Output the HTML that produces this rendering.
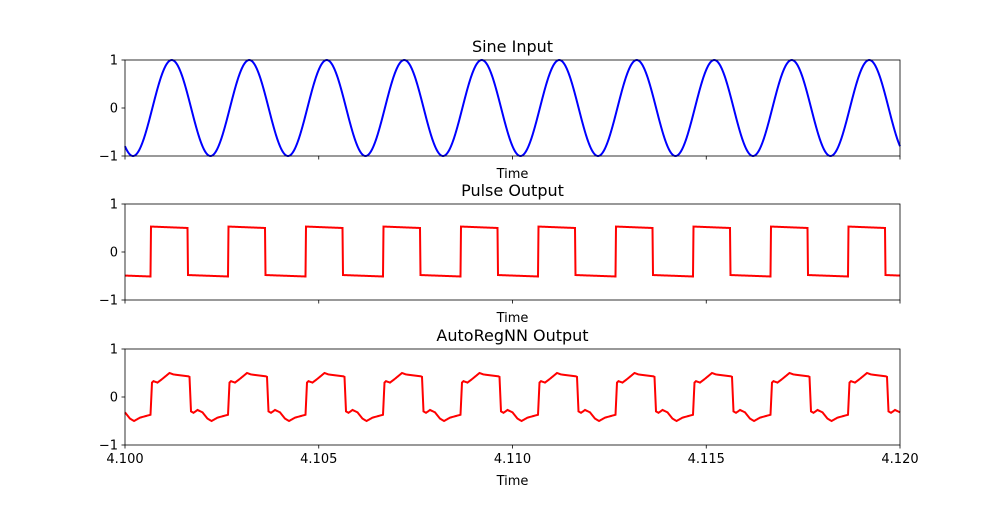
<!DOCTYPE html>
<html><head><meta charset="utf-8"><style>
body{margin:0;background:#fff}
text{font-family:"DejaVu Sans","Liberation Sans",sans-serif;fill:#000}
</style></head><body>
<svg id="s" width="1000" height="500" xmlns="http://www.w3.org/2000/svg"></svg>
<script>
const s=document.getElementById('s');let h='';
const X0=125,X1=900,P=77.5;
const axes=[[60,156,'Sine Input'],[204,300,'Pulse Output'],[349,445,'AutoRegNN Output']];
function pts(f,top,bot){let c=(top+bot)/2,k=(bot-top)/2,a=[];for(let x=X0;x<=X1;x+=0.5)a.push(x.toFixed(1)+','+(c-f(x)*k).toFixed(2));return a.join(' ');}
const sine=x=>-Math.cos(2*Math.PI*(x-133)/P);
const pulse=x=>{let p=((x-151)%P+P)%P;return p<37?0.53-0.03*p/37:-0.48-0.03*(p-37)/40;};
const kp=[[0,-0.37],[1.5,0.3],[3,0.33],[7,0.3],[12,0.38],[19,0.5],[23,0.47],[38,0.43],[39,0.42],[40.5,-0.3],[43,-0.33],[47,-0.27],[52,-0.32],[57,-0.45],[61,-0.5],[67,-0.43],[77.5,-0.37]];
const ar=x=>{let p=((x-150.5)%P+P)%P;for(let i=1;i<kp.length;i++)if(p<=kp[i][0]){let [a,b]=kp[i-1],[c,d]=kp[i];return b+(d-b)*(p-a)/(c-a);}return -0.37;};
const fs=[sine,pulse,ar],cols=['#0000ff','#ff0000','#ff0000'];
axes.forEach(([t,b,title],i)=>{
 let c=(t+b)/2;
 h+=`<polyline points="${pts(fs[i],t,b)}" fill="none" stroke="${cols[i]}" stroke-width="2"/>`;
 h+=`<rect x="${X0}" y="${t}" width="${X1-X0}" height="${b-t}" fill="none" stroke="#000" stroke-width="0.8"/>`;
 [[1,t],[0,c],[-1,b]].forEach(([v,y])=>{h+=`<line x1="${X0-3.5}" x2="${X0}" y1="${y}" y2="${y}" stroke="#000" stroke-width="0.8"/><text x="${X0-7}" y="${y+4.5}" font-size="13" text-anchor="end">${v<0?'−1':v}</text>`;});
 for(let j=0;j<5;j++){let x=X0+j*(X1-X0)/4;h+=`<line x1="${x}" x2="${x}" y1="${b}" y2="${b+3.5}" stroke="#000" stroke-width="0.8"/>`;if(i==2)h+=`<text x="${x}" y="${b+18}" font-size="13" text-anchor="middle">${(4.1+j*0.005).toFixed(3)}</text>`;}
 h+=`<text x="512.5" y="${t-8}" font-size="16" text-anchor="middle">${title}</text>`;
 h+=`<text x="512.5" y="${i==2?b+40:b+22}" font-size="13" text-anchor="middle">Time</text>`;
});
s.innerHTML=h;
</script>
</body></html>
